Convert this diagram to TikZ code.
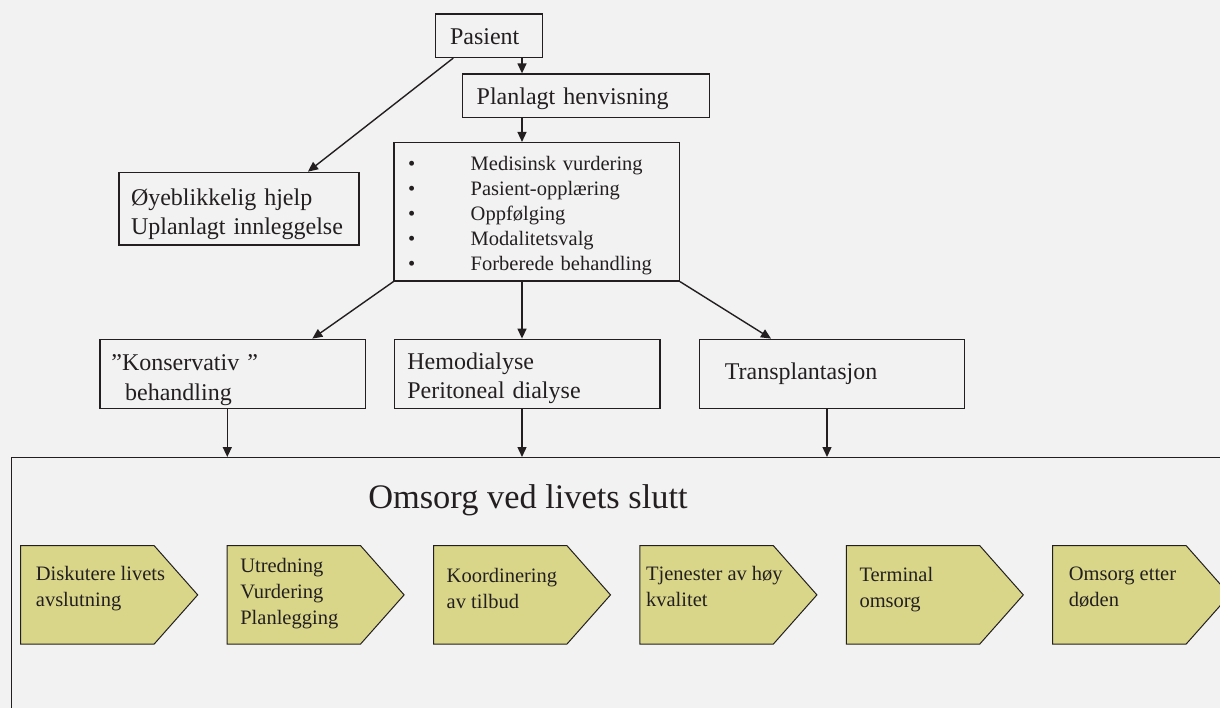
\documentclass[tikz,border=0pt]{standalone}
\usepackage{fontspec}
\setmainfont{Liberation Serif}
\usetikzlibrary{arrows.meta}
\definecolor{ink}{HTML}{231F20}
\definecolor{paper}{HTML}{F2F2F2}
\definecolor{khaki}{HTML}{D9D68A}
\newcommand{\punkt}{\makebox[62.7pt][l]{\textbullet}}
\newcommand{\hoch}[1]{\rule{0pt}{#1}}

\begin{document}
\begin{tikzpicture}[
    x=1pt, y=-1pt,
    box/.style={draw=ink, fill=paper, line width=1.4pt, text=ink, align=left, inner ysep=0pt, font=\fontsize{24}{29}\selectfont},
    arr/.style={draw=ink, line width=1.4pt, -{Triangle[length=10pt,width=9pt]}},
    pil/.style={draw=ink, fill=khaki, line width=1pt},
    piltext/.style={text=ink, anchor=west, align=left, inner sep=0pt, font=\fontsize{20.5}{26}\selectfont},
]
\useasboundingbox (0,0) rectangle (1220,708);
\fill[paper] (0,0) rectangle (1220,708);
\clip (0,0) rectangle (1220,708);

% top part
\node[box, text width=78pt, inner xsep=14.3pt, minimum height=43.3pt] (pasient) at (489,35.7) {\hoch{17.5pt}Pasient};
\node[box, text width=218.6pt, inner xsep=14pt, minimum height=43.3pt] (plan) at (586,95.7) {\hoch{22.5pt}Planlagt henvisning};
\node[box, text width=257.3pt, inner xsep=14pt, minimum height=138.3pt, font=\fontsize{20.5}{25}\selectfont] (tiltak) at (536.7,211.8) {%
    \hoch{22pt}\punkt Medisinsk vurdering\\
    \punkt Pasient-opplæring\\
    \punkt Oppfølging\\
    \punkt Modalitetsvalg\\
    \punkt Forberede behandling};
\node[box, text width=216pt, inner xsep=12pt, minimum height=72.7pt, font=\fontsize{24}{28.5}\selectfont] (akutt) at (239,208.7) {\hoch{28pt}Øyeblikkelig hjelp\\Uplanlagt innleggelse};

% treatment
\node[box, text width=242.9pt, inner xsep=11.4pt, minimum height=69pt, font=\fontsize{24}{30}\selectfont] (kons) at (232.8,373.8) {\hoch{28.5pt}”Konservativ ”\\\hspace*{13.8pt}behandling};
\node[box, text width=239.7pt, inner xsep=13pt, minimum height=69pt] (dial) at (527.2,373.8) {\hoch{25pt}Hemodialyse\\Peritoneal dialyse};
\node[box, text width=214.4pt, inner xsep=25.5pt, minimum height=69pt] (tx) at (832,373.8) {Transplantasjon};

% end of life frame
\node[draw=ink, line width=1.4pt, fill=paper, minimum width=1260pt, minimum height=300pt, anchor=north west, inner sep=0pt] (ramme) at (11,457) {};
\node[anchor=base, text=ink, font=\fontsize{34.4}{40}\selectfont] (tittel) at (528,508) {Omsorg ved livets slutt};

\foreach \i/\dx/\dy/\txt in {0/15/588.5/{Diskutere livets\\avslutning},
                             1/13/594/{Utredning\\Vurdering\\Planlegging},
                             2/13/588.5/{Koordinering\\av tilbud},
                             3/6/586.5/{Tjenester av høy\\kvalitet},
                             4/13/590/{Terminal\\omsorg},
                             5/16/587/{Omsorg etter\\døden}} {
    \pgfmathsetmacro{\xl}{20.7+206.4*\i}
    \draw[pil] (\xl,545.7) -- ++(133.5,0) -- ++(43.5,49.2) -- ++(-43.5,49.1) -- ++(-133.5,0) -- cycle;
    \node[piltext] (steg\i) at (\xl+\dx,\dy) {\txt};
}

% connectors
\coordinate (spine) at (522,0);
\draw[arr] (pasient.south -| spine) -- (plan.north -| spine);
\draw[arr] (plan.south -| spine) -- (tiltak.north -| spine);
\draw[arr] (tiltak.south -| spine) -- (dial.north -| spine);
\draw[arr] (dial.south -| spine) -- (ramme.north -| spine);
\draw[arr] ([xshift=18.3pt]pasient.south west) -- ([xshift=-51.7pt]akutt.north east);
\draw[arr] (tiltak.south west) -- ([xshift=-54pt]kons.north east);
\draw[arr] (tiltak.south east) -- ([xshift=72.4pt]tx.north west);
\draw[arr] ([xshift=-5.5pt]kons.south) -- ([xshift=-5.5pt]kons.south |- ramme.north);
\draw[arr] ([xshift=-5pt]tx.south) -- ([xshift=-5pt]tx.south |- ramme.north);
\end{tikzpicture}
\end{document}
